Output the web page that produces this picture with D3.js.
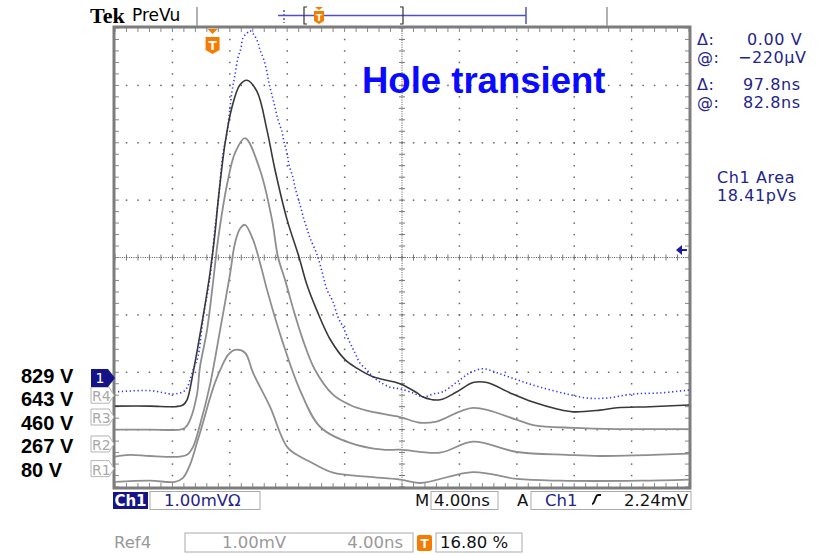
<!DOCTYPE html>
<html>
<head>
<meta charset="utf-8">
<script src="https://cdn.jsdelivr.net/npm/d3@7"></script>
<style>
  body { margin: 0; background: #fff; }
  svg { display: block; }
</style>
</head>
<body>
<div id="scope"></div>
<script>
// traces, [time ns, level mV] (4 ns/div, 1 mV/div)
var ch1 = [[0,-2.59],[2.44,-2.59],[4.18,-2.6],[4.74,-2.57],[5.02,-2.48],[5.44,-2.01],[6.13,-1.04],
  [6.62,-0.27],[6.97,0.43],[7.18,0.97],[7.67,1.99],[8.15,2.62],[8.71,3.01],[9.2,3.09],[9.9,2.89],
  [10.59,2.22],[11.15,1.53],[11.99,0.66],[12.82,0.01],[13.38,-0.48],[14.08,-0.93],
  [14.98,-1.42],[16.03,-1.78],[16.86,-1.93],[17.98,-2.08],[19.86,-2.2],[21.05,-2.36],[21.46,-2.43],
  [22.65,-2.48],[23.83,-2.34],[24.95,-2.18],[25.92,-2.18],[27.53,-2.36],[29.13,-2.52],[30.8,-2.64],
  [31.92,-2.69],[33.8,-2.66],[34.98,-2.62],[37.28,-2.6],[40,-2.57]];

var ref4 = [[0.21,-2.34],[2.44,-2.32],[4.04,-2.38],[4.74,-2.34],[5.02,-2.27],[5.23,-2.13],[5.44,-1.96],
  [5.78,-1.73],[6.13,-1.08],[6.62,-0.34],[6.97,0.52],[7.18,0.95],[7.53,1.82],[7.8,2.17],[8.15,2.89],
  [8.36,3.18],[8.57,3.48],[8.78,3.65],[8.92,3.83],[9.2,3.91],[9.41,3.95],[9.69,3.88],[9.97,3.74],
  [10.1,3.62],[10.38,3.44],[10.59,3.23],[10.73,3.04],[10.94,2.83],[11.15,2.62],[11.36,2.4],
  [11.64,2.19],[11.78,2.01],[11.99,1.82],[12.13,1.61],[12.4,1.4],[12.54,1.23],[12.75,1.04],
  [12.96,0.86],[13.17,0.66],[13.38,0.5],[13.59,0.34],[14.08,0.05],[14.43,-0.25],[14.77,-0.56],
  [15.19,-0.77],[15.54,-1.04],[15.89,-1.21],[16.38,-1.49],[16.72,-1.66],[17.07,-1.84],[17.56,-1.96],
  [17.98,-2.08],[18.47,-2.17],[19.16,-2.26],[19.86,-2.29],[20.77,-2.36],[21.46,-2.43],[22.16,-2.38],
  [22.86,-2.34],[23.83,-2.17],[24.74,-2.01],[25.64,-1.94],[26.62,-2.01],[28.01,-2.13],[29.62,-2.26],
  [31.5,-2.38],[32.89,-2.45],[34.29,-2.45],[36.1,-2.38],[37.98,-2.36],[40,-2.31]];

var ref3 = [[0,-3],[2.44,-3],[4.53,-3],[4.88,-2.97],[5.23,-2.83],[5.71,-2.39],[5.92,-1.91],[6.41,-1.27],
  [6.83,-0.44],[7.18,0.31],[7.87,1.35],[8.36,1.82],[9.06,2.08],[10.1,1.53],[10.94,0.66],[11.36,0.01],
  [11.85,-0.39],[12.54,-1],[13.1,-1.44],[13.94,-1.96],[15.19,-2.39],[16.38,-2.57],[17.56,-2.67],
  [19.86,-2.78],[21.25,-2.88],[22.4,-2.86],[24.95,-2.62],[28.01,-2.83],[29.13,-2.92],[31.92,-2.97],
  [35.19,-2.99],[40,-2.99]];

var ref2 = [[0,-3.47],[1.05,-3.44],[2.44,-3.46],[4.53,-3.47],[5.02,-3.44],[5.44,-3.3],[5.92,-2.92],
  [6.62,-2.22],[7.32,-1.27],[8.01,-0.3],[8.36,0.25],[8.71,0.5],[9.06,0.57],[9.62,0.31],[10.24,-0.22],
  [10.59,-0.56],[11.64,-1.44],[12.89,-2.31],[14.29,-2.95],[16.38,-3.23],[18.68,-3.35],[19.86,-3.35],
  [22.65,-3.4],[24.95,-3.21],[28.01,-3.39],[31.5,-3.44],[33.8,-3.46],[40,-3.42]];

var ref1 = [[0,-3.91],[2.44,-3.89],[4.18,-3.91],[4.74,-3.84],[5.23,-3.61],[5.71,-3.23],[6.13,-2.88],
  [6.62,-2.45],[6.97,-2.18],[7.46,-1.89],[7.87,-1.7],[8.36,-1.61],[9.06,-1.66],[9.62,-2.01],
  [10.8,-2.6],[11.99,-3.3],[12.89,-3.47],[13.59,-3.56],[15.19,-3.75],[17.56,-3.82],[19.86,-3.87],
  [21.25,-3.93],[24.95,-3.74],[28.01,-3.86],[31.01,-3.89],[36.59,-3.89],[40,-3.87]];

var biasLabels = ["829 V", "643 V", "460 V", "267 V", "80 V"];
var refMarks = ["R4", "R3", "R2", "R1"];
var refLevels = [-2.4, -2.78, -3.25, -3.68];   // where the ref markers point
var ch1Level = -2.1;
var trigLevel = 0.13;
var readouts = [["Δ:", "0.00 V"], ["@:", "\u2212220\u00b5V"], ["Δ:", "97.8ns"], ["@:", "82.8ns"]];

var W = 832, H = 555;
var svg = d3.select("#scope").append("svg")
    .attr("width", W)
    .attr("height", H);
svg.append("rect").attr("width", W).attr("height", H).attr("fill", "#fff");

var x = d3.scaleLinear().domain([0, 40]).range([115, 689]),
    y = d3.scaleLinear().domain([-4, 4]).range([487, 28]);

var majX = d3.range(0, 40.001, 4),
    minX = d3.range(0, 40.001, 0.8),
    majY = d3.range(-4, 4.001, 1),
    minY = d3.range(-4, 4.001, 0.2);

var grat = svg.append("g");

// dotted graticule
majX.filter(function(d) { return d > 0 && d < 40 && d != 20; }).forEach(function(gx) {
  grat.selectAll(null).data(minY.slice(1, -1)).enter().append("rect")
      .attr("x", x(gx) - 0.7).attr("y", function(d) { return y(d) - 0.7; })
      .attr("width", 1.5).attr("height", 1.5).attr("fill", "#666");
});
majY.filter(function(d) { return d > -4 && d < 4 && d != 0; }).forEach(function(gy) {
  grat.selectAll(null).data(minX.slice(1, -1)).enter().append("rect")
      .attr("x", function(d) { return x(d) - 0.7; }).attr("y", y(gy) - 0.7)
      .attr("width", 1.5).attr("height", 1.5).attr("fill", "#666");
});

// center cross with minor ticks
grat.append("line").attr("x1", x(0)).attr("x2", x(40)).attr("y1", y(0)).attr("y2", y(0))
    .attr("stroke", "#555").attr("stroke-dasharray", "1 1.3");
grat.append("line").attr("x1", x(20)).attr("x2", x(20)).attr("y1", y(-4)).attr("y2", y(4))
    .attr("stroke", "#555").attr("stroke-dasharray", "1 1.3");
grat.selectAll(null).data(minX).enter().append("line")
    .attr("x1", function(d) { return x(d); }).attr("x2", function(d) { return x(d); })
    .attr("y1", y(0) - 3).attr("y2", y(0) + 3).attr("stroke", "#777");
grat.selectAll(null).data(minY).enter().append("line")
    .attr("y1", function(d) { return y(d); }).attr("y2", function(d) { return y(d); })
    .attr("x1", x(20) - 3).attr("x2", x(20) + 3).attr("stroke", "#777");

// border ticks
grat.selectAll(null).data(minX).enter().append("path")
    .attr("d", function(d) { return "M" + x(d) + "," + y(4) + "v4M" + x(d) + "," + y(-4) + "v-4"; })
    .attr("stroke", "#888");
grat.selectAll(null).data(minY).enter().append("path")
    .attr("d", function(d) { return "M" + x(0) + "," + y(d) + "h4M" + x(40) + "," + y(d) + "h-4"; })
    .attr("stroke", "#888");

grat.append("rect")
    .attr("x", x(0) - 1).attr("y", y(4) - 1)
    .attr("width", x(40) - x(0) + 2).attr("height", y(-4) - y(4) + 2)
    .attr("fill", "none").attr("stroke", "#7c7c7c").attr("stroke-width", 3);

// traces
svg.append("clipPath").attr("id", "clip").append("rect")
    .attr("x", x(0)).attr("y", y(4)).attr("width", x(40) - x(0)).attr("height", y(-4) - y(4));

var line = d3.line()
    .x(function(d) { return x(d[0]); })
    .y(function(d) { return y(d[1]); })
    .curve(d3.curveCatmullRom.alpha(0.5));

var traces = svg.append("g").attr("clip-path", "url(#clip)").attr("fill", "none");

[ref1, ref2, ref3].forEach(function(r) {
  traces.append("path").attr("d", line(r))
      .attr("stroke", "#8e8e8e").attr("stroke-width", 1.8);
});
traces.append("path").attr("d", line(ref4))
    .attr("stroke", "#3434ff").attr("stroke-width", 1.6)
    .attr("stroke-dasharray", "1.3 2.6");
traces.append("path").attr("d", line(ch1))
    .attr("stroke", "#383838").attr("stroke-width", 1.6);

// trigger position marker
var tx = x(6.8);
svg.append("path").attr("d", "M" + (tx - 5) + ",29h10l-5,5z").attr("fill", "#f57c00");
svg.append("path")
    .attr("d", "M" + (tx - 7) + ",37h14v13l-7,4l-7,-4z")
    .attr("fill", "#f57c00");
svg.append("text").attr("x", tx).attr("y", 50).attr("text-anchor", "middle")
    .attr("font-family", "DejaVu Sans").attr("font-weight", "bold").attr("font-size", 12)
    .attr("fill", "#fff").text("T");

// trigger level arrow
var ty = y(trigLevel);
svg.append("path").attr("d", "M676," + ty + "l6,-5v10z").attr("fill", "#1c1c9a");
svg.append("line").attr("x1", 680).attr("x2", 687).attr("y1", ty).attr("y2", ty)
    .attr("stroke", "#1c1c9a").attr("stroke-width", 2);

// left markers
refMarks.forEach(function(m, i) {
  var my = y(refLevels[i]);
  svg.append("path")
      .attr("d", "M91," + (my - 8) + "h18l5,8l-5,8h-18z")
      .attr("fill", "#fff").attr("stroke", "#b4b4b4").attr("stroke-width", 1);
  svg.append("text").attr("x", 92).attr("y", my + 6)
      .attr("font-family", "DejaVu Sans").attr("font-size", 14).attr("fill", "#a8a8a8")
      .text(m);
});
var cy = y(ch1Level);
svg.append("path").attr("d", "M91," + (cy - 9) + "h17l7,9l-7,9h-17z").attr("fill", "#141488");
svg.append("text").attr("x", 100).attr("y", cy + 5).attr("text-anchor", "middle")
    .attr("font-family", "DejaVu Sans").attr("font-size", 14).attr("fill", "#fff").text("1");

svg.selectAll(null).data(biasLabels).enter().append("text")
    .attr("x", 21).attr("y", function(d, i) { return 383 + i * 23.4; })
    .attr("font-family", "Liberation Sans, Arial, sans-serif").attr("font-weight", "bold")
    .attr("font-size", 20).attr("fill", "#000")
    .text(function(d) { return d; });

// title
svg.append("text").attr("x", 362).attr("y", 93)
    .attr("font-family", "Liberation Sans, Arial, sans-serif").attr("font-weight", "bold")
    .attr("font-size", 36.5).attr("fill", "#0a0aff").text("Hole transient");

// header: Tek PreVu + record bar
svg.append("text").attr("x", 90).attr("y", 23)
    .attr("font-family", "Liberation Serif, serif").attr("font-weight", "bold")
    .attr("font-size", 22).attr("fill", "#000").text("Tek");
svg.append("text").attr("x", 132).attr("y", 21)
    .attr("font-family", "DejaVu Sans").attr("font-size", 17).attr("fill", "#000").text("PreVu");
svg.append("line").attr("x1", 197).attr("x2", 197).attr("y1", 7).attr("y2", 26)
    .attr("stroke", "#999").attr("stroke-width", 1.5);
svg.append("line").attr("x1", 607).attr("x2", 607).attr("y1", 7).attr("y2", 26)
    .attr("stroke", "#999").attr("stroke-width", 1.5);
var bar = svg.append("g").attr("stroke", "#5050c8").attr("stroke-width", 1.5);
bar.append("line").attr("x1", 278).attr("x2", 526).attr("y1", 15.5).attr("y2", 15.5);
bar.append("line").attr("x1", 526).attr("x2", 526).attr("y1", 7).attr("y2", 24);
bar.append("line").attr("x1", 284).attr("x2", 284).attr("y1", 10).attr("y2", 23)
    .attr("stroke-dasharray", "2 2");
svg.append("path").attr("d", "M307,7h-3v17h3M400,7h3v17h-3")
    .attr("fill", "none").attr("stroke", "#333").attr("stroke-width", 1.2);
svg.append("path").attr("d", "M315,7h8l-4,3z").attr("fill", "#f57c00");
svg.append("path").attr("d", "M314,11h10v10l-5,3l-5,-3z").attr("fill", "#f57c00");
svg.append("text").attr("x", 319).attr("y", 20.5).attr("text-anchor", "middle")
    .attr("font-family", "DejaVu Sans").attr("font-weight", "bold").attr("font-size", 9)
    .attr("fill", "#fff").text("T");

// cursor readouts
var ro = svg.append("g").attr("font-family", "DejaVu Sans").attr("font-size", 16)
    .attr("letter-spacing", 0.6).attr("fill", "#23238c");
readouts.forEach(function(r, i) {
  var by = [45, 63, 90, 108][i];
  ro.append("text").attr("x", 697).attr("y", by).text(r[0]);
  ro.append("text").attr("x", [747, 738, 743, 743][i]).attr("y", by).text(r[1]);
});
ro.append("text").attr("x", 717).attr("y", 183).text("Ch1 Area");
ro.append("text").attr("x", 717).attr("y", 201).text("18.41pVs");

// bottom readout row
var bot = svg.append("g").attr("font-family", "DejaVu Sans").attr("font-size", 16.5);
bot.append("rect").attr("x", 113).attr("y", 492).attr("width", 35).attr("height", 17).attr("fill", "#141488");
bot.append("text").attr("x", 130.5).attr("y", 506).attr("text-anchor", "middle")
    .attr("fill", "#fff").attr("font-weight", "bold").attr("font-size", 15).text("Ch1");
bot.append("rect").attr("x", 150).attr("y", 491.5).attr("width", 110).attr("height", 18)
    .attr("fill", "none").attr("stroke", "#aaa");
bot.append("text").attr("x", 164).attr("y", 506).attr("fill", "#23238c").text("1.00mV\u03a9");
bot.append("text").attr("x", 415).attr("y", 506).attr("fill", "#111").text("M");
bot.append("rect").attr("x", 431).attr("y", 491.5).attr("width", 67).attr("height", 18)
    .attr("fill", "none").attr("stroke", "#aaa");
bot.append("text").attr("x", 434).attr("y", 506).attr("fill", "#111").text("4.00ns");
bot.append("text").attr("x", 517).attr("y", 506).attr("fill", "#111").text("A");
bot.append("rect").attr("x", 531).attr("y", 491.5).attr("width", 160).attr("height", 18)
    .attr("fill", "none").attr("stroke", "#aaa");
bot.append("text").attr("x", 545).attr("y", 506).attr("fill", "#23238c").text("Ch1");
bot.append("path").attr("d", "M592,504c3,0 3,-9 6,-9h3").attr("fill", "none")
    .attr("stroke", "#111").attr("stroke-width", 2);
bot.append("text").attr("x", 688).attr("y", 506).attr("text-anchor", "end")
    .attr("fill", "#111").text("2.24mV");

bot.append("text").attr("x", 114).attr("y", 548).attr("fill", "#999").text("Ref4");
bot.append("rect").attr("x", 185).attr("y", 533).attr("width", 228).attr("height", 19)
    .attr("fill", "none").attr("stroke", "#aaa");
bot.append("text").attr("x", 222).attr("y", 548).attr("fill", "#999").text("1.00mV");
bot.append("text").attr("x", 403).attr("y", 548).attr("text-anchor", "end")
    .attr("fill", "#999").text("4.00ns");
bot.append("rect").attr("x", 417).attr("y", 535).attr("width", 15).attr("height", 16)
    .attr("rx", 2).attr("fill", "#f57c00");
bot.append("text").attr("x", 424.5).attr("y", 548).attr("text-anchor", "middle")
    .attr("fill", "#fff").attr("font-weight", "bold").attr("font-size", 12).text("T");
bot.append("rect").attr("x", 436).attr("y", 533).attr("width", 86).attr("height", 19)
    .attr("fill", "none").attr("stroke", "#aaa");
bot.append("text").attr("x", 440).attr("y", 548).attr("fill", "#111").text("16.80 %");
</script>
</body>
</html>
